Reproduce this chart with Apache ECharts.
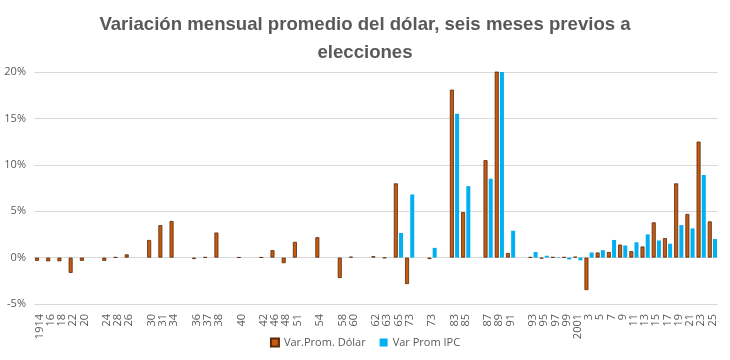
<!DOCTYPE html>
<html>
<head>
<meta charset="utf-8">
<script src="https://cdn.jsdelivr.net/npm/echarts@6/dist/echarts.min.js"></script>
<style>html,body{margin:0;padding:0;background:#fff;}#c{width:730px;height:360px;}</style>
</head>
<body>
<div id="c"></div>
<script>
const categories = ['1914','16','18','22','20','','24','28','26','','30','31','34','','36','37','38','','40','','42','46','48','51','','54','','58','60','','62','63','65','73','','73','','83','85','','87','89','91','','93','95','97','99','2001','3','5','7','9','11','13','15','17','19','21','23','25'];
const dolar = [-0.35,-0.4,-0.4,-1.65,-0.35,null,-0.35,0.05,0.35,null,1.9,3.5,3.95,null,-0.15,0.05,2.7,null,0.03,null,0.03,0.8,-0.6,1.7,null,2.2,null,-2.2,0.1,null,0.15,-0.05,8.0,-2.85,null,-0.15,null,18.1,4.9,null,10.5,40,0.5,null,0.05,-0.1,0.05,0.05,0.1,-3.5,0.55,0.6,1.4,0.7,1.2,3.8,2.1,8.0,4.7,12.5,3.9];
const ipc = [null,null,null,null,null,null,null,null,null,null,null,null,null,null,null,null,null,null,null,null,null,null,null,null,null,null,null,null,null,null,null,null,2.65,6.8,null,1.05,null,15.5,7.7,null,8.5,30,2.9,null,0.6,0.2,0.05,-0.2,-0.3,0.55,0.8,1.9,1.3,1.65,2.5,1.85,1.5,3.5,3.15,8.9,2.0];
const yTicks = {min: -5, max: 20, interval: 5};

const chart = echarts.init(document.getElementById('c'), null, {renderer: 'canvas'});
chart.setOption({
  backgroundColor: '#fff',
  animation: false,
  title: {
    text: 'Variación mensual promedio del dólar, seis meses previos a\nelecciones',
    left: 'center', top: 6,
    textStyle: {color: '#595959', fontSize: 18.6, fontWeight: 'bold', fontFamily: 'Liberation Sans Narrow, sans-serif', lineHeight: 28, align: 'center'}
  },
  legend: {
    bottom: 7, left: 'center', itemWidth: 8, itemHeight: 8, itemGap: 14,
    textStyle: {color: '#595959', fontSize: 11, fontFamily: 'Open Sans, sans-serif'},
    data: [{name: 'Var.Prom. Dólar', icon: 'rect'}, {name: 'Var Prom IPC', icon: 'rect'}]
  },
  grid: {left: 34, right: 12, top: 72, bottom: 56, containLabel: false},
  xAxis: {
    type: 'category', data: categories,
    axisLine: {show: false}, axisTick: {show: false},
    axisLabel: {interval: 0, rotate: 90, color: '#595959', fontSize: 11, fontFamily: 'Open Sans, sans-serif', margin: 10}
  },
  yAxis: {
    type: 'value', min: yTicks.min, max: yTicks.max, interval: yTicks.interval,
    axisLine: {show: false}, axisTick: {show: false},
    axisLabel: {formatter: v => v + '%', color: '#595959', fontSize: 11, fontFamily: 'Open Sans, sans-serif', margin: 8},
    splitLine: {lineStyle: {color: '#d9d9d9', width: 1}}
  },
  series: [
    {name: 'Var.Prom. Dólar', type: 'bar', data: dolar, clip: true, barGap: '30%', barCategoryGap: '18%',
     itemStyle: {color: '#C55A11', borderColor: '#5a2a0a', borderWidth: 0.8}},
    {name: 'Var Prom IPC', type: 'bar', data: ipc, clip: true,
     itemStyle: {color: '#00B0F0'}}
  ]
});
</script>
</body>
</html>
